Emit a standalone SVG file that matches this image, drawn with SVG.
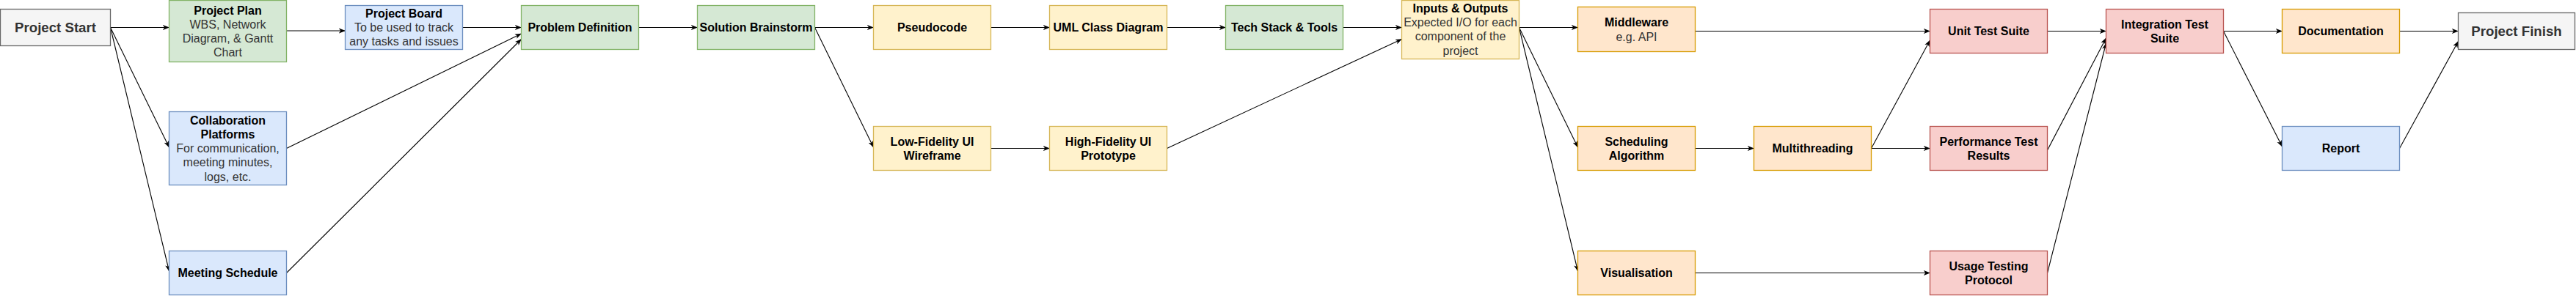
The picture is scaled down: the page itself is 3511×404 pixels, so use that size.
<svg xmlns="http://www.w3.org/2000/svg" width="3511" height="404" viewBox="0 0 3511 404">
<style>
text{font-family:"Liberation Sans",Arial,Helvetica,sans-serif;font-size:16px;text-anchor:middle}
.b{font-weight:bold;fill:#000}
.d{fill:#333}
.big{font-size:18.67px;font-weight:bold;fill:#333}
rect{stroke-width:1.3}
.gray{fill:#f5f5f5;stroke:#666}
.green{fill:#d5e8d4;stroke:#82b366}
.blue{fill:#dae8fc;stroke:#6c8ebf}
.yellow{fill:#fff2cc;stroke:#d6b656}
.orange{fill:#ffe6cc;stroke:#d79b00}
.red{fill:#f8cecc;stroke:#b85450}
#edges line{stroke:#000;stroke-width:1.1;marker-end:url(#arr)}
</style>
<defs>
<marker id="arr" markerUnits="userSpaceOnUse" viewBox="0 0 10 10" refX="9.5" refY="5" markerWidth="9" markerHeight="9" orient="auto">
<path d="M0,1.2 L10,5 L0,8.8 L2.6,5 z" fill="#000"/>
</marker>
</defs>
<rect width="3511" height="404" fill="#fff" stroke="none"/>
<g id="edges">
<line x1="150.5" y1="37.5" x2="230.5" y2="37.5"/>
<line x1="150.5" y1="37.5" x2="230.5" y2="201"/>
<line x1="150.5" y1="37.5" x2="230.5" y2="370"/>
<line x1="390.5" y1="42" x2="470.5" y2="42"/>
<line x1="630.5" y1="37.5" x2="710.5" y2="37.5"/>
<line x1="390.5" y1="202.5" x2="710.5" y2="46"/>
<line x1="390.5" y1="372.5" x2="710.5" y2="53.5"/>
<line x1="870.5" y1="37.5" x2="950.5" y2="37.5"/>
<line x1="1110.5" y1="37.5" x2="1190.5" y2="37.5"/>
<line x1="1110.5" y1="37.5" x2="1190.5" y2="201"/>
<line x1="1350.5" y1="37.5" x2="1430.5" y2="37.5"/>
<line x1="1350.5" y1="202.5" x2="1430.5" y2="202.5"/>
<line x1="1590.5" y1="37.5" x2="1670.5" y2="37.5"/>
<line x1="1830.5" y1="37.5" x2="1910.5" y2="37.5"/>
<line x1="1590.5" y1="202.5" x2="1910.5" y2="53.5"/>
<line x1="2070.5" y1="37.5" x2="2150.5" y2="37.5"/>
<line x1="2070.5" y1="37.5" x2="2150.5" y2="201"/>
<line x1="2070.5" y1="37.5" x2="2150.5" y2="370"/>
<line x1="2310.5" y1="42.5" x2="2630.5" y2="42.5"/>
<line x1="2310.5" y1="202.5" x2="2390.5" y2="202.5"/>
<line x1="2550.5" y1="202.5" x2="2630.5" y2="55"/>
<line x1="2550.5" y1="202.5" x2="2630.5" y2="202.5"/>
<line x1="2310.5" y1="372.5" x2="2630.5" y2="372.5"/>
<line x1="2790.5" y1="42.5" x2="2870.5" y2="42.5"/>
<line x1="2790.5" y1="205" x2="2870.5" y2="52"/>
<line x1="2790.5" y1="372.5" x2="2870.5" y2="59"/>
<line x1="3030.5" y1="42.5" x2="3110.5" y2="42.5"/>
<line x1="3030.5" y1="42.5" x2="3110.5" y2="200"/>
<line x1="3270.5" y1="42.5" x2="3350.5" y2="42.5"/>
<line x1="3270.5" y1="202.5" x2="3350.5" y2="56.5"/>
</g>
<g id="start"><rect class="gray" x="0.5" y="12.5" width="150" height="50"/><text class="big" x="75.5" y="44">Project Start</text></g>
<g id="plan"><rect class="green" x="230.5" y="0.5" width="160" height="84"/><text class="b" x="310.5" y="19.5">Project Plan</text><text class="d" x="310.5" y="38.7">WBS, Network</text><text class="d" x="310.5" y="57.9">Diagram, &amp; Gantt</text><text class="d" x="310.5" y="77.1">Chart</text></g>
<g id="board"><rect class="blue" x="470.5" y="7.5" width="160" height="60"/><text class="b" x="550.5" y="23.9">Project Board</text><text class="d" x="550.5" y="43.1">To be used to track</text><text class="d" x="550.5" y="62.3">any tasks and issues</text></g>
<g id="collab"><rect class="blue" x="230.5" y="152.5" width="160" height="100"/><text class="b" x="310.5" y="169.7">Collaboration</text><text class="b" x="310.5" y="188.9">Platforms</text><text class="d" x="310.5" y="208.1">For communication,</text><text class="d" x="310.5" y="227.3">meeting minutes,</text><text class="d" x="310.5" y="246.5">logs, etc.</text></g>
<g id="meeting"><rect class="blue" x="230.5" y="342.5" width="160" height="60"/><text class="b" x="310.5" y="378.1">Meeting Schedule</text></g>
<g id="problem"><rect class="green" x="710.5" y="7.5" width="160" height="60"/><text class="b" x="790.5" y="43.1">Problem Definition</text></g>
<g id="brainstorm"><rect class="green" x="950.5" y="7.5" width="160" height="60"/><text class="b" x="1030.5" y="43.1">Solution Brainstorm</text></g>
<g id="pseudo"><rect class="yellow" x="1190.5" y="7.5" width="160" height="60"/><text class="b" x="1270.5" y="43.1">Pseudocode</text></g>
<g id="lofi"><rect class="yellow" x="1190.5" y="172.5" width="160" height="60"/><text class="b" x="1270.5" y="198.5">Low-Fidelity UI</text><text class="b" x="1270.5" y="217.7">Wireframe</text></g>
<g id="uml"><rect class="yellow" x="1430.5" y="7.5" width="160" height="60"/><text class="b" x="1510.5" y="43.1">UML Class Diagram</text></g>
<g id="hifi"><rect class="yellow" x="1430.5" y="172.5" width="160" height="60"/><text class="b" x="1510.5" y="198.5">High-Fidelity UI</text><text class="b" x="1510.5" y="217.7">Prototype</text></g>
<g id="tech"><rect class="green" x="1670.5" y="7.5" width="160" height="60"/><text class="b" x="1750.5" y="43.1">Tech Stack &amp; Tools</text></g>
<g id="io"><rect class="yellow" x="1910.5" y="0.5" width="160" height="80"/><text class="b" x="1990.5" y="17">Inputs &amp; Outputs</text><text class="d" x="1990.5" y="36.2">Expected I/O for each</text><text class="d" x="1990.5" y="55.4">component of the</text><text class="d" x="1990.5" y="74.6">project</text></g>
<g id="middleware"><rect class="orange" x="2150.5" y="9.5" width="160" height="61"/><text class="b" x="2230.5" y="36.4">Middleware</text><text class="d" x="2230.5" y="55.6">e.g. API</text></g>
<g id="sched"><rect class="orange" x="2150.5" y="172.5" width="160" height="60"/><text class="b" x="2230.5" y="198.5">Scheduling</text><text class="b" x="2230.5" y="217.7">Algorithm</text></g>
<g id="visual"><rect class="orange" x="2150.5" y="342.5" width="160" height="60"/><text class="b" x="2230.5" y="378.1">Visualisation</text></g>
<g id="multi"><rect class="orange" x="2390.5" y="172.5" width="160" height="60"/><text class="b" x="2470.5" y="208.1">Multithreading</text></g>
<g id="unit"><rect class="red" x="2630.5" y="12.5" width="160" height="60"/><text class="b" x="2710.5" y="48.1">Unit Test Suite</text></g>
<g id="perf"><rect class="red" x="2630.5" y="172.5" width="160" height="60"/><text class="b" x="2710.5" y="198.5">Performance Test</text><text class="b" x="2710.5" y="217.7">Results</text></g>
<g id="usage"><rect class="red" x="2630.5" y="342.5" width="160" height="60"/><text class="b" x="2710.5" y="368.5">Usage Testing</text><text class="b" x="2710.5" y="387.7">Protocol</text></g>
<g id="integ"><rect class="red" x="2870.5" y="12.5" width="160" height="60"/><text class="b" x="2950.5" y="38.5">Integration Test</text><text class="b" x="2950.5" y="57.7">Suite</text></g>
<g id="doc"><rect class="orange" x="3110.5" y="12.5" width="160" height="60"/><text class="b" x="3190.5" y="48.1">Documentation</text></g>
<g id="report"><rect class="blue" x="3110.5" y="172.5" width="160" height="60"/><text class="b" x="3190.5" y="208.1">Report</text></g>
<g id="finish"><rect class="gray" x="3350.5" y="17.5" width="159" height="50"/><text class="big" x="3430" y="49">Project Finish</text></g>
</svg>
